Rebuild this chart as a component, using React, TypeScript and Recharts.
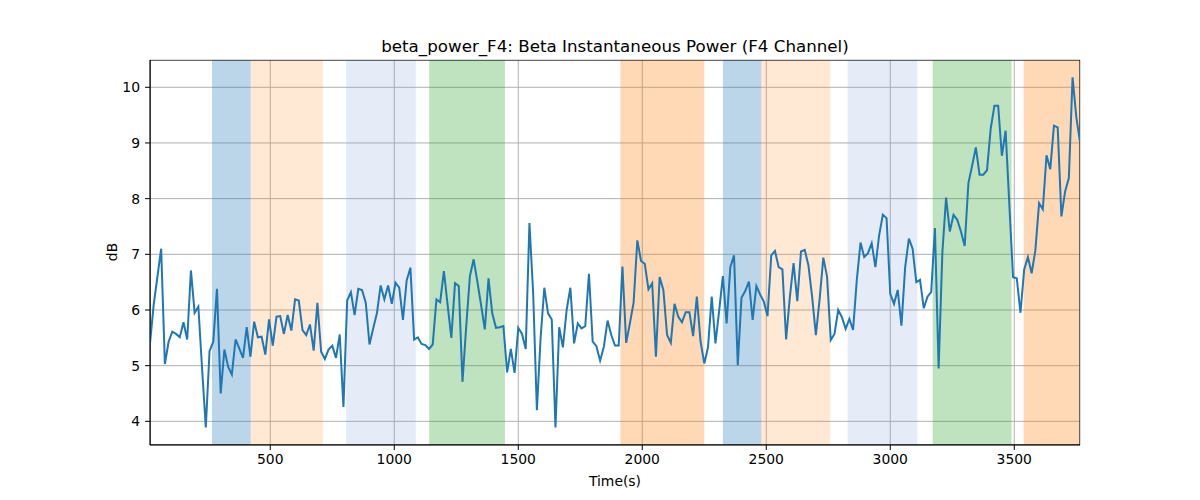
import React from 'react';
import { LineChart, Line, XAxis, YAxis, CartesianGrid, ReferenceArea } from 'recharts';

// sampling grid of the time axis (seconds)
const T0 = 15;
const DT = 15;

// beta power in dB, one value per 15 s
const betaPower = [
  5.4, 6.1, 6.6, 7.1, 5.03, 5.43, 5.61, 5.57, 5.51, 5.78,
  5.47, 6.71, 5.95, 6.06, 4.95, 3.89, 5.26, 5.43, 6.38, 4.5,
  5.29, 4.98, 4.84, 5.47, 5.31, 5.14, 5.69, 5.16, 5.79, 5.51,
  5.52, 5.2, 5.83, 5.36, 5.88, 5.89, 5.57, 5.91, 5.63, 6.19,
  6.17, 5.64, 5.55, 5.74, 5.27, 6.13, 5.25, 5.12, 5.29, 5.36,
  5.14, 5.56, 4.26, 6.17, 6.32, 5.91, 6.38, 6.36, 6.13, 5.38,
  5.67, 5.94, 6.44, 6.19, 6.44, 6.11, 6.49, 6.4, 5.82, 6.53,
  6.76, 5.47, 5.51, 5.39, 5.37, 5.3, 5.38, 6.19, 6.14, 6.7,
  6.09, 5.5, 6.48, 6.43, 4.71, 5.7, 6.61, 6.91, 6.51, 6.09,
  5.65, 6.57, 5.94, 5.68, 5.69, 5.71, 4.88, 5.3, 4.87, 5.68,
  5.57, 5.3, 7.56, 6.3, 4.2, 5.5, 6.4, 5.94, 5.83, 3.89,
  5.69, 5.33, 6.0, 6.4, 5.4, 5.76, 5.67, 5.71, 6.65, 5.43,
  5.35, 5.09, 5.34, 5.81, 5.55, 5.36, 5.36, 6.78, 5.41, 5.76,
  6.13, 7.25, 6.88, 6.83, 6.37, 6.48, 5.16, 6.59, 6.36, 5.55,
  5.41, 6.11, 5.88, 5.78, 5.96, 5.96, 5.53, 6.24, 5.43, 5.04,
  5.33, 6.24, 5.4, 5.99, 6.61, 5.76, 6.77, 6.98, 5.01, 6.22,
  6.34, 6.51, 5.82, 6.43, 6.28, 6.15, 5.89, 6.98, 7.06, 6.77,
  6.73, 5.47, 6.23, 6.84, 6.16, 7.05, 7.08, 6.8, 6.23, 5.55,
  6.19, 6.94, 6.6, 5.46, 5.57, 6.0, 5.87, 5.66, 5.84, 5.64,
  6.54, 7.21, 6.95, 7.02, 7.2, 6.77, 7.34, 7.71, 7.65, 6.29,
  6.11, 6.36, 5.72, 6.77, 7.28, 7.1, 6.5, 6.54, 6.03, 6.24,
  6.32, 7.47, 4.95, 7.03, 8.02, 7.41, 7.71, 7.62, 7.41, 7.15,
  8.28, 8.59, 8.92, 8.43, 8.43, 8.51, 9.26, 9.67, 9.67, 8.77,
  9.22, 7.9, 6.59, 6.57, 5.95, 6.73, 6.95, 6.66, 7.07, 7.92,
  7.81, 8.78, 8.53, 9.31, 9.28, 7.68, 8.13, 8.37, 10.18, 9.47,
  9.02,
];

// shaded stage intervals
const spanStarts = [265, 421, 806, 1141, 1912, 2325, 2480, 2828, 3171, 3538];
const spanEnds = [421, 712, 1087, 1446, 2250, 2480, 2758, 3109, 3489, 3765];
const spanColors = ['#1f77b4', '#ff7f0e', '#7b9fd8', '#2ca02c', '#ff7f0e', '#1f77b4', '#ff7f0e', '#7b9fd8', '#2ca02c', '#ff7f0e'];
const spanAlphas = [0.3, 0.18, 0.2, 0.3, 0.3, 0.3, 0.18, 0.2, 0.3, 0.3];

const xTicks = [500, 1000, 1500, 2000, 2500, 3000, 3500];
const yTicks = [4, 5, 6, 7, 8, 9, 10];

const data = betaPower.map((v, i) => ({ time: T0 + i * DT, power: v }));

const FONT = '"DejaVu Sans", sans-serif';
const tickStyle = { fontSize: 13.9, fill: '#000', fontFamily: FONT };

export default function App() {
  return (
    <div style={{ position: 'absolute', left: 0, top: 0, width: 1200, height: 500, background: '#fff' }}>
      <LineChart width={1200} height={500} data={data} margin={{ top: 60, right: 120, bottom: 25, left: 90 }}>
        <CartesianGrid stroke="#b0b0b0" strokeWidth={1} />
        {spanStarts.map((s, i) => (
          <ReferenceArea
            key={i}
            x1={s}
            x2={spanEnds[i]}
            fill={spanColors[i]}
            fillOpacity={spanAlphas[i]}
            stroke="none"
            ifOverflow="hidden"
          />
        ))}
        <XAxis
          dataKey="time"
          type="number"
          domain={[15, 3765]}
          allowDataOverflow
          ticks={xTicks}
          tick={tickStyle}
          tickSize={5}
          tickMargin={4}
          height={30}
          stroke="#000"
        />
        <YAxis
          type="number"
          domain={[3.575, 10.49]}
          allowDataOverflow
          ticks={yTicks}
          tick={tickStyle}
          tickSize={5}
          tickMargin={5}
          width={60}
          stroke="#000"
        />
        <ReferenceArea x1={15} x2={3765} y1={3.575} y2={10.49} fill="none" stroke="#000" strokeWidth={1} ifOverflow="hidden" />
        <Line
          type="linear"
          dataKey="power"
          stroke="#1f77b4"
          strokeWidth={2}
          dot={false}
          isAnimationActive={false}
        />
      </LineChart>
      <svg width={1200} height={500} style={{ position: 'absolute', left: 0, top: 0, pointerEvents: 'none' }}>
        <text x={615} y={52} textAnchor="middle" fontSize={16.7} fontFamily={FONT} fill="#000">
          beta_power_F4: Beta Instantaneous Power (F4 Channel)
        </text>
        <text x={615} y={486} textAnchor="middle" fontSize={13.9} fontFamily={FONT} fill="#000">
          Time(s)
        </text>
        <text x={117} y={252} textAnchor="middle" fontSize={13.9} fontFamily={FONT} fill="#000" transform="rotate(-90, 117, 252)">
          dB
        </text>
      </svg>
    </div>
  );
}
